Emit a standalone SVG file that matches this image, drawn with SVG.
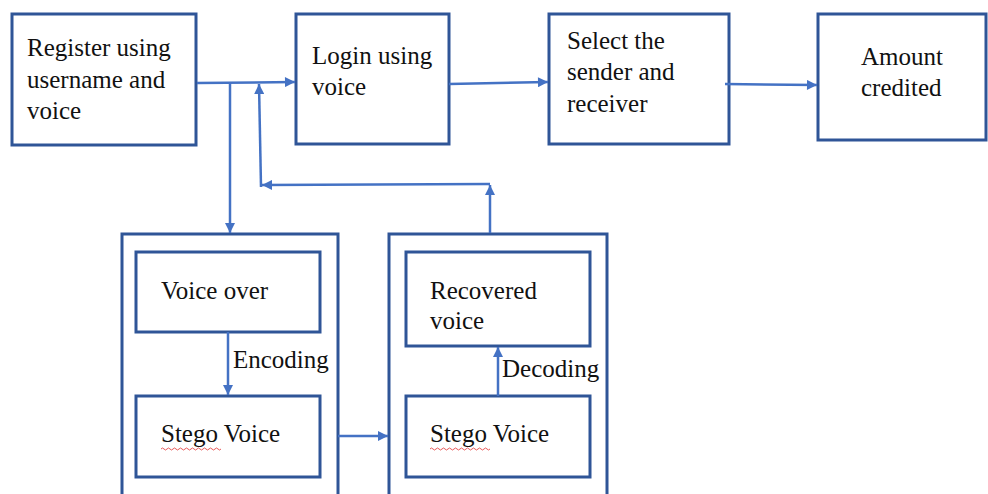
<svg xmlns="http://www.w3.org/2000/svg" width="988" height="494" viewBox="0 0 988 494" font-family="'Liberation Serif', 'Times New Roman', serif">
<style>
.box{fill:#fff;stroke:#2F5597;stroke-width:3}
.cont{fill:none;stroke:#2F5597;stroke-width:3}
.ln{fill:none;stroke:#4472C4;stroke-width:2.5}
.t{font-family:'Liberation Serif','Times New Roman',serif;font-size:25px;fill:#111}
.sq{fill:none;stroke:#E03030;stroke-width:0.8}
</style>
<defs>
<marker id="ah" viewBox="0 0 10 10" refX="10" refY="5" markerWidth="4.4" markerHeight="4" orient="auto" markerUnits="strokeWidth">
<path d="M0,0 L10,5 L0,10 z" fill="#4472C4"/>
</marker>
</defs>
<rect width="988" height="494" fill="#fff"/>
<g id="register"><rect class="box" x="12" y="14" width="184" height="131"/>
<text class="t" x="27" y="56">Register using</text><text class="t" x="27" y="88">username and</text><text class="t" x="27" y="119">voice</text></g>
<g id="login"><rect class="box" x="296" y="14" width="153" height="130"/>
<text class="t" x="312" y="64">Login using</text><text class="t" x="312" y="95">voice</text></g>
<g id="select"><rect class="box" x="549" y="14" width="180" height="130"/>
<text class="t" x="567" y="49">Select the</text><text class="t" x="567" y="80">sender and</text><text class="t" x="567" y="112">receiver</text></g>
<g id="amount"><rect class="box" x="818" y="14" width="168" height="126"/>
<text class="t" x="861" y="65">Amount</text><text class="t" x="861" y="96">credited</text></g>
<g id="encoder"><rect class="cont" x="122" y="234" width="216" height="270"/></g>
<g id="voiceover"><rect class="box" x="136" y="252" width="184" height="80"/>
<text class="t" x="161" y="299">Voice over</text></g>
<g id="stego1"><rect class="box" x="136" y="396" width="184" height="81"/>
<text class="t" x="161" y="442">Stego Voice</text>
<path class="sq" d="M161,449 q1.5,-2 3,0 t3,0 t3,0 t3,0 t3,0 t3,0 t3,0 t3,0 t3,0 t3,0 t3,0 t3,0 t3,0 t3,0 t3,0 t3,0 t3,0 t3,0 t3,0 t3,0"/></g>
<g id="decoder"><rect class="cont" x="389" y="234" width="218" height="270"/></g>
<g id="recovered"><rect class="box" x="406" y="252" width="184" height="94"/>
<text class="t" x="430" y="299">Recovered</text><text class="t" x="430" y="329">voice</text></g>
<g id="stego2"><rect class="box" x="406" y="396" width="184" height="81"/>
<text class="t" x="430" y="442">Stego Voice</text>
<path class="sq" d="M430,449 q1.5,-2 3,0 t3,0 t3,0 t3,0 t3,0 t3,0 t3,0 t3,0 t3,0 t3,0 t3,0 t3,0 t3,0 t3,0 t3,0 t3,0 t3,0 t3,0 t3,0 t3,0"/></g>
<g id="connectors">
<path class="ln" d="M197,83 L295,82" marker-end="url(#ah)"/>
<path class="ln" d="M230,83 L230,233" marker-end="url(#ah)"/>
<path class="ln" d="M490,233 L490,185" marker-end="url(#ah)"/>
<path class="ln" d="M490,184 L262,185" marker-end="url(#ah)"/>
<path class="ln" d="M261,187 L259,84" marker-end="url(#ah)"/>
<path class="ln" d="M449,84 L548,82" marker-end="url(#ah)"/>
<path class="ln" d="M725,84 L817,85" marker-end="url(#ah)"/>
<path class="ln" d="M228,332 L228,395" marker-end="url(#ah)"/>
<path class="ln" d="M498,396 L498,347" marker-end="url(#ah)"/>
<path class="ln" d="M338,436 L388,436" marker-end="url(#ah)"/>
<text class="t" x="233" y="368">Encoding</text>
<text class="t" x="502" y="377">Decoding</text>
</g>
</svg>
